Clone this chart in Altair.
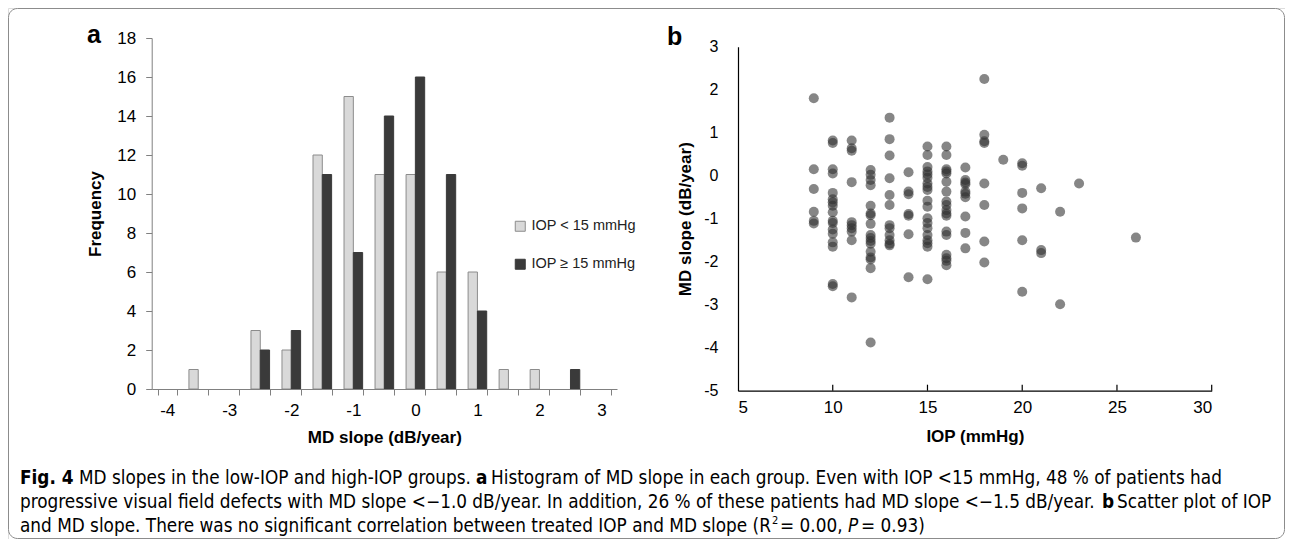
import altair as alt
import pandas as pd

# ---------------- data ----------------
# Panel a: histogram of MD slope (bins of 0.5 dB/year)
bins = ["-4", "-3.5", "-3", "-2.5", "-2", "-1.5", "-1", "-0.5", "0", "0.5", "1", "1.5", "2", "2.5", "3"]
low_iop_counts = [0, 1, 0, 3, 2, 12, 15, 11, 11, 6, 6, 1, 1, 0, 0]
high_iop_counts = [0, 0, 0, 2, 3, 11, 7, 14, 16, 11, 4, 0, 0, 1, 0]
groups = ["IOP < 15 mmHg", "IOP \u2265 15 mmHg"]

# Panel b: scatter of IOP vs MD slope (one list per IOP level)
iop_levels = [9, 10, 11, 12, 13, 14, 15, 16, 17, 18, 19, 20, 21, 22, 23, 26]
md_iop09 = [1.80, 0.15, -0.31, -0.84, -1.05, -1.11]
md_iop10 = [0.82, 0.76, 0.15, 0.05, -0.40, -0.55, -0.62, -0.70, -0.85, -1.05, -1.10, -1.25, -1.35, -1.55, -1.65, -2.52, -2.57]
md_iop11 = [0.82, 0.64, 0.58, -0.15, -1.08, -1.15, -1.22, -1.30, -1.50, -2.83]
md_iop12 = [0.13, 0.02, -0.10, -0.22, -0.70, -0.88, -0.92, -1.12, -1.38, -1.45, -1.52, -1.58, -1.77, -1.90, -1.95, -2.15, -3.88]
md_iop13 = [1.35, 0.85, 0.47, -0.06, -0.45, -0.68, -1.15, -1.22, -1.38, -1.50, -1.58, -1.62]
md_iop14 = [0.08, -0.37, -0.43, -0.89, -0.93, -1.36, -2.36]
md_iop15 = [0.68, 0.48, 0.20, 0.10, 0.03, -0.05, -0.18, -0.26, -0.33, -0.58, -0.72, -0.99, -1.10, -1.22, -1.38, -1.50, -1.57, -1.65, -2.41]
md_iop16 = [0.68, 0.48, 0.15, 0.10, 0.05, -0.14, -0.37, -0.60, -0.68, -0.80, -0.88, -0.93, -1.30, -1.38, -1.84, -1.92, -1.98, -2.08]
md_iop17 = [0.19, -0.10, -0.16, -0.20, -0.37, -0.42, -0.50, -0.95, -1.33, -1.69]
md_iop18 = [2.25, 0.95, 0.80, 0.76, -0.18, -0.68, -1.53, -2.02]
md_iop19 = [0.37]
md_iop20 = [0.29, 0.23, -0.40, -0.76, -1.50, -2.70]
md_iop21 = [-0.29, -1.73, -1.80]
md_iop22 = [-0.84, -2.99]
md_iop23 = [-0.18]
md_iop26 = [-1.44]
scatter_x_ticks = [10, 15, 20, 25, 30]

caption_fig = "Fig. 4"
caption_1a = "MD slopes in the low-IOP and high-IOP groups."
caption_1b = "Histogram of MD slope in each group. Even with IOP <15 mmHg, 48 % of patients had"
caption_2a = "progressive visual field defects with MD slope <\u22121.0 dB/year. In addition, 26 % of these patients had MD slope <\u22121.5 dB/year."
caption_2b = "Scatter plot of IOP"
caption_3a = "and MD slope. There was no significant correlation between treated IOP and MD slope (R"
caption_3b = " = 0.00, "
caption_3c = " = 0.93)"

# ---------------- tables ----------------
hist_rows = []
for b, lo, hi in zip(bins, low_iop_counts, high_iop_counts):
    hist_rows.append({"bin": b, "group": groups[0], "count": lo})
    hist_rows.append({"bin": b, "group": groups[1], "count": hi})
hist_df = pd.DataFrame(hist_rows)

md_lists = [md_iop09, md_iop10, md_iop11, md_iop12, md_iop13, md_iop14, md_iop15, md_iop16,
            md_iop17, md_iop18, md_iop19, md_iop20, md_iop21, md_iop22, md_iop23, md_iop26]
sc_rows = []
for lvl, vals in zip(iop_levels, md_lists):
    for v in vals:
        sc_rows.append({"iop": lvl, "md": v})
sc_df = pd.DataFrame(sc_rows)
tick_df = pd.DataFrame({"iop": scatter_x_ticks})
one = pd.DataFrame({"k": [0]})

W, H = 1277, 531
FONT = "Liberation Sans, Arial, sans-serif"
CAP_FONT = "DejaVu Sans Condensed, sans-serif"

# ---------------- geometry (pixels inside the chart) ----------------
HX0, HX1, HY0, HY1 = 143.7, 609.0, 381.0, 30.0       # histogram plot box
SX0, SX1, SY0, SY1 = 730.0, 1203.7, 382.7, 38.7      # scatter plot box

# ---------------- frame ----------------
frame = alt.Chart(one).mark_rect(fill="white", stroke="#8c8c8c", strokeWidth=1, cornerRadius=9).encode(
    x=alt.value(0.5), x2=alt.value(W - 0.5), y=alt.value(0.5), y2=alt.value(H - 0.5)
)

legend_cfg = dict(orient="none", legendX=505, legendY=211, title=None,
                  symbolType="square", symbolSize=100, symbolStrokeWidth=1,
                  labelFont=FONT, labelFontSize=14.5, labelColor="#222",
                  labelOffset=4, rowPadding=22, padding=0)

# ---------------- panel a ----------------
hist = alt.Chart(hist_df).transform_filter("datum.count > 0").mark_bar(strokeWidth=1).encode(
    x=alt.X("bin:N", sort=bins,
            scale=alt.Scale(domain=bins, range=[HX0, HX1], paddingInner=0.4, paddingOuter=0.2),
            axis=alt.Axis(orient="bottom", offset=HY0 - H, tickBand="extent", labelOverlap=False,
                          labelExpr="(toNumber(datum.value) % 1 == 0) ? datum.value : ''",
                          labelAngle=0, labelFont=FONT, labelFontSize=17, labelColor="black",
                          labelPadding=7, tickSize=6, tickColor="#808080", domainColor="#808080",
                          zindex=1,
                          title="MD slope (dB/year)", titleFont=FONT, titleFontSize=17,
                          titleFontWeight="bold", titleColor="black",
                          titleX=(HX0 + HX1) / 2, titleY=48, titleBaseline="middle", titleAlign="center")),
    xOffset=alt.XOffset("group:N", sort=groups, scale=alt.Scale(domain=groups, paddingInner=0, paddingOuter=0)),
    y=alt.Y("count:Q",
            scale=alt.Scale(domain=[0, 18], range=[HY0, HY1], nice=False),
            axis=alt.Axis(orient="left", offset=-HX0, values=list(range(0, 19, 2)), grid=False,
                          labelFont=FONT, labelFontSize=17, labelColor="black", labelPadding=10,
                          tickSize=6, tickColor="#808080", domainColor="#808080", zindex=1,
                          title="Frequency", titleFont=FONT, titleFontSize=17, titleFontWeight="bold",
                          titleColor="black", titleX=87 - HX0, titleY=(HY0 + HY1) / 2,
                          titleBaseline="middle", titleAlign="center", titleAngle=270)),
    fill=alt.Fill("group:N", sort=groups,
                  scale=alt.Scale(domain=groups, range=["#d9d9d9", "#3a3a3a"]),
                  legend=alt.Legend(**legend_cfg)),
    stroke=alt.Stroke("group:N", sort=groups,
                      scale=alt.Scale(domain=groups, range=["#8c8c8c", "#3a3a3a"]),
                      legend=alt.Legend(**legend_cfg)),
)

# ---------------- panel b ----------------
sx = alt.Scale(domain=[5, 30], range=[SX0, SX1], nice=False)
sy = alt.Scale(domain=[-5, 3], range=[SY0, SY1], nice=False)

points = alt.Chart(sc_df).mark_circle(size=100, color="#2e2e2e", opacity=0.58).encode(
    x=alt.X("iop:Q", scale=sx,
            axis=alt.Axis(orient="bottom", offset=SY0 - H, values=[5, 10, 15, 20, 25, 30], grid=False,
                          ticks=False, labelFont=FONT, labelFontSize=17, labelColor="black",
                          labelPadding=9, domainColor="black", domainWidth=1.2, zindex=1,
                          title="IOP (mmHg)", titleFont=FONT, titleFontSize=17, titleFontWeight="bold",
                          titleColor="black", titleX=(SX0 + SX1) / 2, titleY=46,
                          titleBaseline="middle", titleAlign="center")),
    y=alt.Y("md:Q", scale=sy,
            axis=alt.Axis(orient="left", offset=-SX0, values=list(range(-5, 4)), grid=False,
                          ticks=False, labelFont=FONT, labelFontSize=16, labelColor="black",
                          labelExpr="'' + datum.value",
                          labelPadding=20, domainColor="black", domainWidth=1.2, zindex=1,
                          title="MD slope (dB/year)", titleFont=FONT, titleFontSize=17,
                          titleFontWeight="bold", titleColor="black", titleX=677 - SX0,
                          titleY=(SY0 + SY1) / 2, titleBaseline="middle", titleAlign="center",
                          titleAngle=270)),
)
xticks = alt.Chart(tick_df).mark_rule(color="black", strokeWidth=1.2).encode(
    x=alt.X("iop:Q", scale=sx), y=alt.value(SY0), y2=alt.value(SY0 - 6)
)
scatter = alt.layer(points, xticks)

# ---------------- texts ----------------
def txt(s, x, y, size=17, weight="normal", font=FONT, style="normal", color="black", baseline="alphabetic"):
    return alt.Chart(one).mark_text(text=s, font=font, fontSize=size, fontWeight=weight, fontStyle=style,
                                    color=color, align="left", baseline=baseline).encode(
        x=alt.value(x), y=alt.value(y))

panel_a = txt("a", 79, 35, size=25, weight="bold")
panel_b = txt("b", 659, 37, size=25, weight="bold")

CS = 18.8
L1, L2, L3 = 476, 500, 524
cap = [
    txt(caption_fig, 12, L1, size=CS, weight="bold", font=CAP_FONT),
    txt(caption_1a, 71, L1, size=CS, font=CAP_FONT),
    txt("a", 468, L1, size=CS, weight="bold", font=CAP_FONT),
    txt(caption_1b, 483, L1, size=CS, font=CAP_FONT),
    txt(caption_2a, 12, L2, size=CS, font=CAP_FONT),
    txt("b", 1094, L2, size=CS, weight="bold", font=CAP_FONT),
    txt(caption_2b, 1109, L2, size=CS, font=CAP_FONT),
    txt(caption_3a, 12, L3, size=CS, font=CAP_FONT),
    txt("2", 764, L3 - 8, size=11, font=CAP_FONT),
    txt(caption_3b, 772, L3, size=CS, font=CAP_FONT),
    txt("P", 840, L3, size=CS, font=CAP_FONT, style="italic"),
    txt(caption_3c, 853, L3, size=CS, font=CAP_FONT),
]

chart = alt.layer(frame, hist, scatter, panel_a, panel_b, *cap).resolve_scale(
    x="independent", y="independent"
).resolve_axis(
    x="independent", y="independent"
).properties(
    width=W, height=H, padding=0, autosize=alt.AutoSizeParams(type="none"),
).configure_view(stroke=None).configure(background="white")

chart.save("out.html", embed_options={"renderer": "svg", "actions": False})
